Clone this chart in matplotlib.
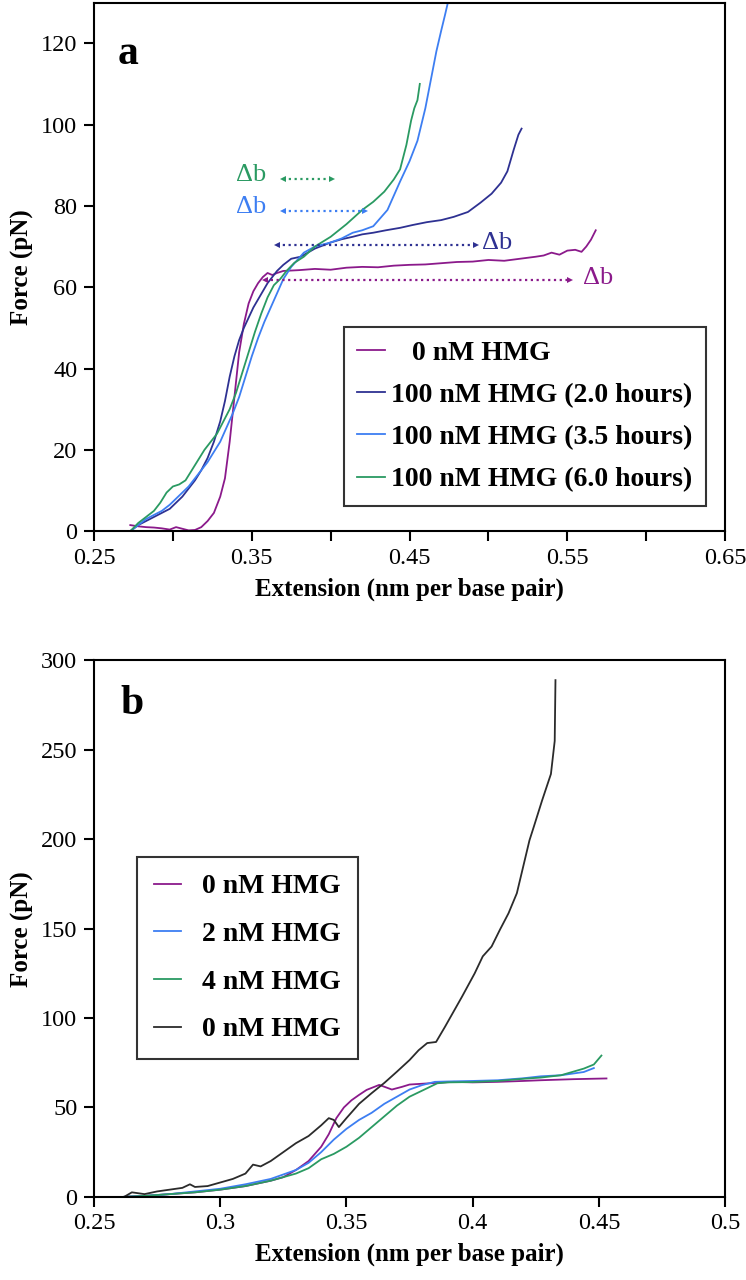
import numpy as np
import matplotlib
matplotlib.use('Agg')
import matplotlib.pyplot as plt

plt.rcParams['font.family'] = ['Liberation Serif', 'DejaVu Serif']

PURPLE = '#8b1a8b'
NAVY = '#2e3192'
BLUE = '#3d7ef2'
GREEN = '#2a9a62'
BLACK = '#2b2b2b'

# ---- panel a data (extension nm/bp, force pN) ----
a_0nm_x = [0.273, 0.278, 0.283, 0.288, 0.293, 0.298, 0.302, 0.306, 0.310, 0.314,
           0.318, 0.322, 0.326, 0.330, 0.333, 0.336, 0.339, 0.342, 0.345, 0.348,
           0.351, 0.354, 0.357, 0.360, 0.363, 0.366, 0.370, 0.380, 0.390, 0.400,
           0.410, 0.420, 0.430, 0.440, 0.450, 0.460, 0.470, 0.480, 0.490, 0.500,
           0.510, 0.520, 0.530, 0.535, 0.540, 0.545, 0.550, 0.555, 0.559, 0.562,
           0.565, 0.568]
a_0nm_f = [1.5, 1.2, 1.0, 0.9, 0.7, 0.4, 1.0, 0.6, 0.2, 0.3,
           1.0, 2.5, 4.5, 8.5, 13, 22, 33, 44, 51, 56,
           59, 61, 62.5, 63.5, 63, 63.5, 64, 64.2, 64.5, 64.3,
           64.8, 65.0, 64.9, 65.3, 65.5, 65.6, 65.9, 66.2, 66.3, 66.7,
           66.5, 67.0, 67.5, 67.8, 68.5, 68.0, 69.0, 69.2, 68.7, 70.0,
           71.7, 74.0]

a_2h_x = [0.273, 0.278, 0.283, 0.288, 0.293, 0.298, 0.302, 0.306, 0.310, 0.314,
          0.318, 0.322, 0.326, 0.330, 0.333, 0.336, 0.339, 0.342, 0.345, 0.348,
          0.351, 0.354, 0.357, 0.360, 0.363, 0.366, 0.370, 0.375, 0.381, 0.390,
          0.400, 0.407, 0.414, 0.420, 0.427, 0.435, 0.444, 0.452, 0.461, 0.470,
          0.478, 0.487, 0.495, 0.502, 0.508, 0.512, 0.516, 0.519, 0.521]
a_2h_f = [0, 1.5, 2.5, 3.5, 4.5, 5.5, 7, 8.5, 10.5, 12.5,
          15, 18, 22, 27, 32, 38, 43, 47, 50, 52.5,
          55, 57, 59, 61, 62.5, 64, 65.5, 67, 67.5, 69.5,
          71, 71.8, 72.4, 73, 73.4, 74, 74.6, 75.3, 76, 76.5,
          77.3, 78.5, 80.8, 83, 85.7, 88.5, 93.8, 97.5, 99]

a_35h_x = [0.273, 0.278, 0.283, 0.288, 0.293, 0.298, 0.302, 0.306, 0.310, 0.314,
           0.318, 0.322, 0.326, 0.330, 0.334, 0.338, 0.342, 0.346, 0.350, 0.354,
           0.358, 0.362, 0.366, 0.370, 0.375, 0.383, 0.390, 0.400, 0.407, 0.414,
           0.420, 0.427, 0.436, 0.444, 0.450, 0.455, 0.460, 0.464, 0.467, 0.470,
           0.4725, 0.474]
a_35h_f = [0, 1.5, 3, 4, 5, 6.5, 8, 9.5, 11, 13,
           15, 17, 19.5, 22, 25.5, 29, 33, 38, 43, 47.5,
           51.5, 55, 58.5, 62, 65, 68.5, 70, 71, 72, 73.4,
           74, 75, 79, 86, 91, 96, 104, 112, 118, 123,
           127, 129.5]

a_6h_x = [0.273, 0.278, 0.283, 0.288, 0.292, 0.296, 0.300, 0.304, 0.308, 0.312,
          0.316, 0.320, 0.324, 0.328, 0.332, 0.336, 0.340, 0.344, 0.348, 0.352,
          0.356, 0.360, 0.364, 0.368, 0.372, 0.377, 0.383, 0.390, 0.400, 0.410,
          0.420, 0.427, 0.434, 0.440, 0.444, 0.448, 0.451, 0.453, 0.455, 0.4565]
a_6h_f = [0, 2, 3.5, 5, 7, 9.5, 11, 11.5, 12.5, 15,
          17.5, 20, 22, 24, 27, 30, 34, 39, 44, 49,
          53.5, 57.5, 60.5, 62, 64, 66, 67.5, 70, 72.4, 75.5,
          79, 81, 83.5, 86.5, 89, 95, 101, 104, 106, 110]

# delta-b markers
db_start = [0.370, 0.370, 0.366, 0.3586]
db_end = [0.401, 0.422, 0.492, 0.552]
db_force = [86.7, 78.8, 70.4, 61.8]
db_text_x = [0.340, 0.340, 0.496, 0.560]
db_text_y = [87.5, 79.8, 70.8, 62.2]
db_colors = [GREEN, BLUE, NAVY, PURPLE]

# ---- panel b data ----
b_0nm_x = [0.262, 0.270, 0.280, 0.290, 0.300, 0.310, 0.320, 0.325, 0.330, 0.335,
           0.340, 0.343, 0.346, 0.349, 0.352, 0.355, 0.358, 0.363, 0.368, 0.372,
           0.375, 0.383, 0.3925, 0.400, 0.410, 0.420, 0.427, 0.440, 0.453]
b_0nm_f = [0, 0.5, 1.5, 2.5, 4, 6, 9, 11, 15, 20,
           28, 35, 44, 50, 54, 57, 59.8, 62.6, 60, 61.5,
           62.8, 63.5, 64.3, 64.0, 64.3, 64.8, 65.2, 65.8, 66.2]

b_2nm_x = [0.262, 0.270, 0.280, 0.290, 0.300, 0.310, 0.320, 0.330, 0.335, 0.340,
           0.345, 0.350, 0.355, 0.360, 0.365, 0.370, 0.375, 0.380, 0.385, 0.390,
           0.400, 0.410, 0.420, 0.427, 0.435, 0.444, 0.448]
b_2nm_f = [0, 0.5, 1.5, 3, 4.5, 7, 10, 15, 19, 25,
           32, 38, 43, 47, 52, 56, 60, 62.5, 64.3, 64.5,
           64.8, 65.2, 66.3, 67.4, 68, 69.8, 72]

b_4nm_x = [0.262, 0.270, 0.280, 0.290, 0.300, 0.310, 0.320, 0.330, 0.335, 0.340,
           0.345, 0.350, 0.355, 0.360, 0.365, 0.370, 0.375, 0.3806, 0.386, 0.390,
           0.400, 0.410, 0.420, 0.427, 0.435, 0.444, 0.448, 0.451]
b_4nm_f = [0, 0.5, 1.5, 2.5, 4, 6, 9, 13, 16, 21,
           24, 28, 33, 39, 45, 51, 56, 59.8, 63.5, 64,
           64.2, 64.8, 66, 66.7, 68, 71.7, 74, 79]

b_ctrl_x = [0.262, 0.265, 0.270, 0.275, 0.280, 0.285, 0.288, 0.290, 0.295, 0.300,
            0.305, 0.310, 0.313, 0.316, 0.320, 0.325, 0.330, 0.335, 0.340, 0.343,
            0.345, 0.347, 0.350, 0.355, 0.360, 0.365, 0.370, 0.375, 0.3786, 0.382,
            0.3855, 0.389, 0.3958, 0.4008, 0.404, 0.4075, 0.4108, 0.4142, 0.4175, 0.420,
            0.4225, 0.4242, 0.4275, 0.431, 0.4325, 0.4328]
b_ctrl_f = [0, 2.5, 1.5, 3, 4, 5, 7, 5.5, 6, 8,
            10, 13, 18, 17, 20, 25, 30, 34, 40, 44,
            43, 39, 44, 52, 58, 63.7, 70, 76.5, 82, 86,
            86.6, 95, 112, 125, 134.5, 140, 149.4, 158.6, 169.8, 184.6,
            199.4, 206.9, 221.7, 236.5, 255, 289]

fig = plt.figure(figsize=(7.46, 12.8), dpi=100)
ax1 = fig.add_axes([0.126, 0.585, 0.846, 0.413])
ax2 = fig.add_axes([0.126, 0.065, 0.846, 0.419])

lw = 1.3
ax1.plot(a_0nm_x, a_0nm_f, color=PURPLE, lw=lw, label='   0 nM HMG')
ax1.plot(a_2h_x, a_2h_f, color=NAVY, lw=lw, label='100 nM HMG (2.0 hours)')
ax1.plot(a_35h_x, a_35h_f, color=BLUE, lw=lw, label='100 nM HMG (3.5 hours)')
ax1.plot(a_6h_x, a_6h_f, color=GREEN, lw=lw, label='100 nM HMG (6.0 hours)')

for x0, x1, f, tx, ty, c in zip(db_start, db_end, db_force, db_text_x, db_text_y, db_colors):
    ax1.plot([x0, x1], [f, f], ls=(0, (1, 1.6)), color=c, lw=1.6)
    ax1.plot([x0], [f], marker='<', color=c, ms=5, mew=0)
    ax1.plot([x1], [f], marker='>', color=c, ms=5, mew=0)
    ax1.text(tx, ty, 'Δb', color=c, fontsize=19, va='center', ha='left')

ax1.set_xlim(0.25, 0.65)
ax1.set_ylim(0, 130)
ax1.set_xticks(np.arange(0.25, 0.651, 0.05))
ax1.set_xticklabels(['0.25', '', '0.35', '', '0.45', '', '0.55', '', '0.65'])
ax1.set_yticks(range(0, 121, 20))
ax1.text(0.265, 115, 'a', fontsize=30, fontweight='bold')
ax1.set_xlabel('Extension (nm per base pair)', fontsize=18, fontweight='bold', labelpad=6)
ax1.set_ylabel('Force (pN)', fontsize=18, fontweight='bold', labelpad=5)
leg1 = ax1.legend(loc='upper left', bbox_to_anchor=(0.3954, 0.387), borderaxespad=0,
                  prop={'weight': 'bold', 'size': 20}, frameon=True, fancybox=False,
                  edgecolor='black', handlelength=1.0, handletextpad=0.2,
                  labelspacing=0.6, borderpad=0.5)
leg1.get_frame().set_linewidth(1.5)

ax2.plot(b_0nm_x, b_0nm_f, color=PURPLE, lw=lw, label='0 nM HMG')
ax2.plot(b_2nm_x, b_2nm_f, color=BLUE, lw=lw, label='2 nM HMG')
ax2.plot(b_4nm_x, b_4nm_f, color=GREEN, lw=lw, label='4 nM HMG')
ax2.plot(b_ctrl_x, b_ctrl_f, color=BLACK, lw=lw, label='0 nM HMG')
ax2.set_xlim(0.25, 0.5)
ax2.set_ylim(0, 300)
ax2.set_xticks(np.arange(0.25, 0.501, 0.05))
ax2.set_xticklabels(['0.25', '0.3', '0.35', '0.4', '0.45', '0.5'])
ax2.set_yticks(range(0, 301, 50))
ax2.text(0.2603, 270, 'b', fontsize=30, fontweight='bold')
ax2.set_xlabel('Extension (nm per base pair)', fontsize=18, fontweight='bold', labelpad=6)
ax2.set_ylabel('Force (pN)', fontsize=18, fontweight='bold', labelpad=5)
leg2 = ax2.legend(loc='upper left', bbox_to_anchor=(0.068, 0.633), borderaxespad=0,
                  prop={'weight': 'bold', 'size': 20}, frameon=True, fancybox=False,
                  edgecolor='black', handlelength=1.0, handletextpad=0.75,
                  labelspacing=0.8, borderpad=0.6)
leg2.get_frame().set_linewidth(1.5)

for ax in (ax1, ax2):
    for s in ax.spines.values():
        s.set_linewidth(1.5)
    ax.tick_params(direction='out', length=7, width=1.5, labelsize=17.5, pad=5)

fig.savefig('out.png', dpi=100)
